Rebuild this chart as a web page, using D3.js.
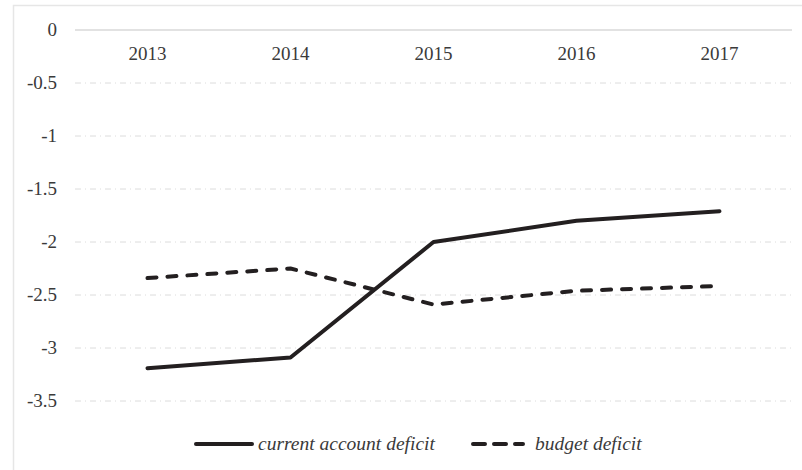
<!DOCTYPE html>
<html>
<head>
  <meta charset="UTF-8">
  <style>
    body { margin: 0; background: #fff; }
  </style>
</head>
<body>
<svg></svg>
<script src="https://d3js.org/d3.v7.min.js"></script>
<script>

let width = 802, height = 470;

// data
let years = ["2013", "2014", "2015", "2016", "2017"];
let currentAccount = [-3.19, -3.09, -2.0, -1.8, -1.71];
let budget = [-2.34, -2.25, -2.59, -2.46, -2.415];
let yTicks = [0, -0.5, -1, -1.5, -2, -2.5, -3, -3.5];
let seriesNames = ["current account deficit", "budget deficit"];

let serif = "Liberation Serif";

let svg = d3.select("svg")
    .attr("width", width)
    .attr("height", height);

// frame (only left and top edges visible)
svg.append("path")
    .attr("d", "M13.5," + height + " L13.5,5.5 L" + width + ",5.5")
    .attr("fill", "none")
    .attr("stroke", "#e6e6e6")
    .attr("stroke-width", 1.5);

let x = d3.scaleBand()
    .domain(years)
    .range([76, 791]);

let y = d3.scaleLinear()
    .domain([0, -3.5])
    .range([30, 401]);

// gridlines
svg.append("g")
    .selectAll("line")
    .data(yTicks)
    .enter()
    .append("line")
    .attr("x1", 75)
    .attr("x2", 792)
    .attr("y1", d => y(d))
    .attr("y2", d => y(d))
    .attr("stroke", d => d === 0 ? "#d9d9d9" : "#dcdcdc")
    .attr("stroke-width", d => d === 0 ? 1.5 : 1)
    .attr("stroke-dasharray", d => d === 0 ? null : "6,4,1,4");

// y labels (plain hyphen as minus, like the original)
let yAxis = d3.axisLeft(y).tickValues(yTicks).tickSize(0).tickPadding(0)
    .tickFormat(d => String(d));
svg.append("g")
    .attr("transform", "translate(57,0)")
    .call(yAxis)
    .call(g => g.select(".domain").remove())
    .selectAll("text")
    .style("font-family", serif)
    .style("font-size", "19px")
    .attr("dy", "0.3em")
    .attr("fill", "#3a3a3a");

// category labels under the zero line
let xAxis = d3.axisBottom(x).tickSize(0).tickPadding(0);
svg.append("g")
    .attr("transform", "translate(0,46)")
    .call(xAxis)
    .call(g => g.select(".domain").remove())
    .selectAll("text")
    .style("font-family", serif)
    .style("font-size", "19px")
    .attr("fill", "#3a3a3a");

let line = d3.line()
    .x((d, i) => x(years[i]) + x.bandwidth() / 2)
    .y(d => y(d));

svg.append("path")
    .datum(currentAccount)
    .attr("d", line)
    .attr("fill", "none")
    .attr("stroke", "#231f20")
    .attr("stroke-width", 4)
    .attr("stroke-linecap", "round")
    .attr("stroke-linejoin", "round");

svg.append("path")
    .datum(budget)
    .attr("d", line)
    .attr("fill", "none")
    .attr("stroke", "#231f20")
    .attr("stroke-width", 4)
    .attr("stroke-linecap", "round")
    .attr("stroke-linejoin", "round")
    .attr("stroke-dasharray", "9,11");

// legend
let legend = svg.append("g").attr("transform", "translate(0,444)");
let legendItems = [
    {name: seriesNames[0], x0: 196, len: 56, dash: null},
    {name: seriesNames[1], x0: 473, len: 50, dash: "12,9"}
];
legendItems.forEach(it => {
    legend.append("line")
        .attr("x1", it.x0).attr("x2", it.x0 + it.len)
        .attr("y1", 0).attr("y2", 0)
        .attr("stroke", "#231f20")
        .attr("stroke-width", 4)
        .attr("stroke-linecap", "round")
        .attr("stroke-dasharray", it.dash);
    legend.append("text")
        .attr("x", it.x0 + it.len + (it.dash ? 12 : 6))
        .attr("y", 6)
        .style("font-family", serif)
        .style("font-size", "19.5px")
        .style("font-style", "italic")
        .attr("fill", "#3a3a3a")
        .text(it.name);
});

</script>
</body>
</html>
